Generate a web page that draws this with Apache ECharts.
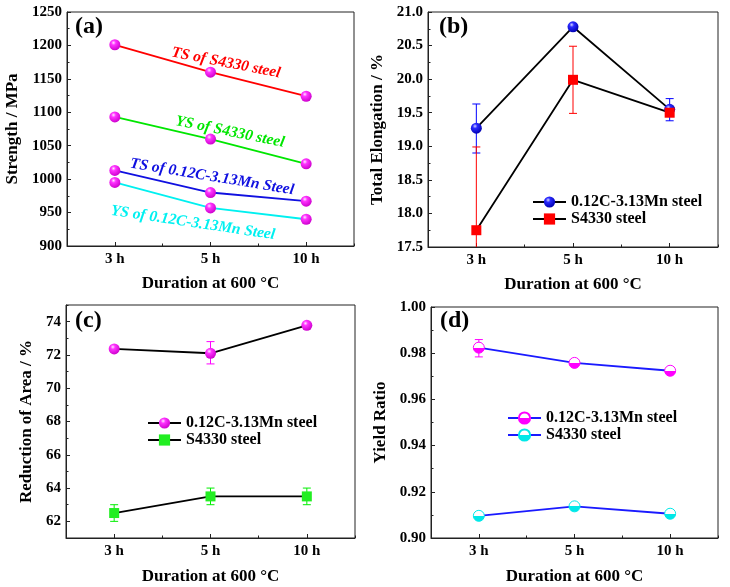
<!DOCTYPE html>
<html>
<head>
<meta charset="utf-8">
<script src="https://cdn.jsdelivr.net/npm/echarts@6/dist/echarts.min.js"></script>
<style>
  html, body { margin: 0; padding: 0; background: #fff; }
  .panel { position: absolute; }
</style>
</head>
<body>
<div id="pa" class="panel" style="left:0;top:0;width:365px;height:290px;"></div>
<div id="pb" class="panel" style="left:365px;top:0;width:365px;height:290px;"></div>
<div id="pc" class="panel" style="left:0;top:290px;width:365px;height:297px;"></div>
<div id="pd" class="panel" style="left:365px;top:290px;width:365px;height:297px;"></div>
<script>
// categories
var durations = ['3 h', '5 h', '10 h'];

// (a) strength, MPa
var tsS4330 = [1201, 1160, 1124];
var ysS4330 = [1093, 1060, 1023];
var tsMn = [1013, 980, 967];
var ysMn = [995, 957, 940];

// (b) total elongation, %
var elongMn = [19.27, 20.78, 19.55];
var elongMnLow = [18.90, 20.76, 19.38];
var elongMnHigh = [19.63, 20.80, 19.71];
var elongS4330 = [17.75, 19.99, 19.50];
var elongS4330Low = [16.51, 19.49, 19.45];
var elongS4330High = [18.99, 20.49, 19.55];

// (c) reduction of area, %
var raMn = [72.36, 72.10, 73.78];
var raMnLow = [72.30, 71.46, 73.72];
var raMnHigh = [72.42, 72.80, 73.84];
var raS4330 = [62.5, 63.5, 63.5];
var raS4330Low = [62.0, 63.0, 63.0];
var raS4330High = [63.0, 64.0, 64.0];
var raTicks = [62, 64, 66, 68, 70, 72, 74];

// (d) yield ratio
var yrMn = [0.9824, 0.9758, 0.9724];
var yrMnLow = [0.9784, 0.9748, 0.9714];
var yrMnHigh = [0.9859, 0.9768, 0.9734];
var yrS4330 = [0.9096, 0.9137, 0.9105];
var yrS4330Low = [0.9088, 0.9129, 0.9093];
var yrS4330High = [0.9104, 0.9145, 0.9117];

var FONT = '"Liberation Serif", "Times New Roman", serif';
var AXIS_COLOR = '#222';

function sphere(light, base, dark){
    return {
        type: 'radial', x: 0.38, y: 0.32, r: 0.7,
        colorStops: [
            {offset: 0, color: light},
            {offset: 0.3, color: base},
            {offset: 1, color: dark}
        ]
    };
}
function halfBall(color){
    return {
        type: 'linear', x: 0, y: 0, x2: 0, y2: 1,
        colorStops: [
            {offset: 0, color: '#ffffff'},
            {offset: 0.5, color: '#ffffff'},
            {offset: 0.5, color: color},
            {offset: 1, color: color}
        ]
    };
}

// error bars as custom series, clipped to the grid
function error_bars(low, high, color){
    var data = [];
    for (var i = 0; i < low.length; i++) {
        data.push([i, low[i], high[i]]);
    }
    return {
        type: 'custom',
        z: 1,
        silent: true,
        encode: {x: 0, y: [1, 2]},
        data: data,
        renderItem: function (params, api) {
            var cs = params.coordSys;
            var pLo = api.coord([api.value(0), api.value(1)]);
            var pHi = api.coord([api.value(0), api.value(2)]);
            var top = cs.y, bot = cs.y + cs.height;
            var x = pLo[0], half = 4;
            var y1 = Math.max(pHi[1], top), y2 = Math.min(pLo[1], bot);
            var style = {stroke: color, lineWidth: 1};
            var children = [{type: 'line', shape: {x1: x, y1: y1, x2: x, y2: y2}, style: style}];
            if (pHi[1] >= top) children.push({type: 'line', shape: {x1: x - half, y1: pHi[1], x2: x + half, y2: pHi[1]}, style: style});
            if (pLo[1] <= bot) children.push({type: 'line', shape: {x1: x - half, y1: pLo[1], x2: x + half, y2: pLo[1]}, style: style});
            return {type: 'group', children: children};
        }
    };
}

function line_series(name, data, lineColor, symbol, size, fill, border){
    return {
        name: name,
        type: 'line',
        data: data,
        symbol: symbol,
        symbolSize: size,
        z: 3,
        lineStyle: {color: lineColor, width: 1.8},
        itemStyle: {color: fill, borderColor: border || fill, borderWidth: border ? 1 : 0},
        emphasis: {disabled: true}
    };
}

function base_option(cfg){
    var yAxes = [{
        type: 'value',
        min: cfg.min, max: cfg.max, interval: cfg.interval,
        name: cfg.yName, nameLocation: 'middle', nameGap: cfg.yNameGap,
        nameTextStyle: {fontFamily: FONT, fontWeight: 'bold', fontSize: 17, color: '#000'},
        axisLine: {show: true, lineStyle: {color: AXIS_COLOR, width: 1}},
        axisTick: {show: true, inside: true, length: 4, lineStyle: {color: AXIS_COLOR}},
        minorTick: {show: cfg.minor !== false, splitNumber: 2, length: 2.5, lineStyle: {color: AXIS_COLOR}},
        splitLine: {show: false},
        axisLabel: {fontFamily: FONT, fontWeight: 'bold', fontSize: 15, color: '#000', margin: 5,
            formatter: cfg.fmt || function (v) { return String(v); }}
    }];
    if (cfg.yAxisExtra) {
        for (var k in cfg.yAxisExtra) yAxes[0][k] = cfg.yAxisExtra[k];
    }
    if (cfg.yMinorAxis) yAxes.push(cfg.yMinorAxis);
    return {
        animation: false,
        title: {text: cfg.tag, left: cfg.tagLeft, top: cfg.tagTop, padding: 0,
            textStyle: {fontFamily: FONT, fontWeight: 'bold', fontSize: 24, color: '#000'}},
        grid: {left: cfg.grid[0], top: cfg.grid[1], right: cfg.grid[2], bottom: cfg.grid[3],
            outerBoundsMode: 'none', containLabel: false,
            show: true, borderColor: AXIS_COLOR, borderWidth: 1, backgroundColor: 'transparent'},
        xAxis: [{
            type: 'category', data: durations, boundaryGap: true,
            name: 'Duration at 600 °C', nameLocation: 'middle', nameGap: cfg.xNameGap,
            nameTextStyle: {fontFamily: FONT, fontWeight: 'bold', fontSize: 17, color: '#000'},
            axisLine: {show: true, lineStyle: {color: AXIS_COLOR, width: 1}},
            axisTick: {show: true, inside: true, alignWithLabel: true, length: 4, lineStyle: {color: AXIS_COLOR}},
            axisLabel: {fontFamily: FONT, fontWeight: 'bold', fontSize: 15, color: '#000', margin: 6}
        }, {
            // minor ticks between categories
            type: 'category', data: durations, boundaryGap: true, position: 'bottom',
            axisLine: {show: false},
            axisTick: {show: true, inside: true, alignWithLabel: false, length: 2.5, lineStyle: {color: AXIS_COLOR}},
            axisLabel: {show: false}
        }],
        yAxis: yAxes,
        legend: cfg.legend,
        graphic: cfg.graphic || [],
        series: cfg.series
    };
}

function legend_at(left, top, names){
    return {
        orient: 'vertical', left: left, top: top, data: names,
        itemWidth: 33, itemHeight: 14, itemGap: 1,
        selectedMode: false,
        textStyle: {fontFamily: FONT, fontWeight: 'bold', fontSize: 16, color: '#000'}
    };
}

function note(text, color, x, y, deg){
    return {
        type: 'text', x: x, y: y, rotation: -deg * Math.PI / 180, silent: true,
        style: {text: text, fill: color, align: 'center', verticalAlign: 'middle',
            font: 'italic bold 15.5px ' + FONT}
    };
}

var magentaBall = sphere('#ffe6ff', '#ff33ff', '#cc00cc');
var blueBall = sphere('#d8d8ff', '#2a2aff', '#0000b0');

// (a)
var chartA = echarts.init(document.getElementById('pa'));
chartA.setOption(base_option({
    tag: '(a)', tagLeft: 75, tagTop: 15,
    grid: [67, 12, 11, 44], xNameGap: 29,
    min: 900, max: 1250, interval: 50,
    yName: 'Strength / MPa', yNameGap: 36,
    series: [
        line_series('TS of S4330 steel', tsS4330, '#ff0000', 'circle', 11, magentaBall),
        line_series('YS of S4330 steel', ysS4330, '#00e600', 'circle', 11, magentaBall),
        line_series('TS of 0.12C-3.13Mn Steel', tsMn, '#1010e0', 'circle', 11, magentaBall),
        line_series('YS of 0.12C-3.13Mn Steel', ysMn, '#00f0f0', 'circle', 11, magentaBall)
    ],
    graphic: [
        note('TS of S4330 steel', '#ff0000', 226, 63, 11),
        note('YS of S4330 steel', '#00e600', 230, 132, 11.5),
        note('TS of 0.12C-3.13Mn Steel', '#1010e0', 212, 177, 9.3),
        note('YS of 0.12C-3.13Mn Steel', '#00f0f0', 193, 223, 8.5)
    ]
}));

// (b)
var chartB = echarts.init(document.getElementById('pb'));
chartB.setOption(base_option({
    tag: '(b)', tagLeft: 74, tagTop: 15,
    grid: [63, 12, 12, 43], xNameGap: 29,
    min: 17.5, max: 21.0, interval: 0.5,
    fmt: function (v) { return v.toFixed(1); },
    yName: 'Total Elongation / %', yNameGap: 29,
    legend: legend_at(162, 189, ['0.12C-3.13Mn steel', 'S4330 steel']),
    series: [
        error_bars(elongMnLow, elongMnHigh, '#0000ff'),
        error_bars(elongS4330Low, elongS4330High, '#ff0000'),
        line_series('0.12C-3.13Mn steel', elongMn, '#000000', 'circle', 11, blueBall),
        line_series('S4330 steel', elongS4330, '#000000', 'rect', 10, '#ff0000')
    ]
}));

// (c)
var chartC = echarts.init(document.getElementById('pc'));
chartC.setOption(base_option({
    tag: '(c)', tagLeft: 75, tagTop: 19,
    grid: [66, 15, 10, 49], xNameGap: 30,
    min: 61, max: 75,
    minor: false,
    yAxisExtra: {
        axisTick: {show: true, inside: true, length: 4, lineStyle: {color: AXIS_COLOR}, customValues: raTicks}
    },
    yMinorAxis: {
        type: 'value', min: 61, max: 75, interval: 1, position: 'left',
        axisLine: {show: false}, axisLabel: {show: false}, splitLine: {show: false},
        axisTick: {show: true, inside: true, length: 2.5, lineStyle: {color: AXIS_COLOR}}
    },
    yName: 'Reduction of Area / %', yNameGap: 23,
    legend: legend_at(142, 120, ['0.12C-3.13Mn steel', 'S4330 steel']),
    series: [
        error_bars(raMnLow, raMnHigh, '#ff00ff'),
        error_bars(raS4330Low, raS4330High, '#00ee00'),
        line_series('0.12C-3.13Mn steel', raMn, '#000000', 'circle', 11, magentaBall),
        line_series('S4330 steel', raS4330, '#000000', 'rect', 10, '#22ee22')
    ]
}));
// labels only on even values
chartC.setOption({yAxis: [{axisLabel: {customValues: raTicks}}]});

// (d)
var chartD = echarts.init(document.getElementById('pd'));
chartD.setOption(base_option({
    tag: '(d)', tagLeft: 75, tagTop: 19,
    grid: [66, 17, 12, 49], xNameGap: 30,
    min: 0.90, max: 1.00, interval: 0.02,
    fmt: function (v) { return v.toFixed(2); },
    yName: 'Yield Ratio', yNameGap: 28,
    legend: legend_at(137, 115, ['0.12C-3.13Mn steel', 'S4330 steel']),
    series: [
        error_bars(yrMnLow, yrMnHigh, '#ff00ff'),
        error_bars(yrS4330Low, yrS4330High, '#00dddd'),
        line_series('0.12C-3.13Mn steel', yrMn, '#1a1aff', 'circle', 11, halfBall('#ff00ff'), '#ff00ff'),
        line_series('S4330 steel', yrS4330, '#1a1aff', 'circle', 11, halfBall('#00e8e8'), '#00e8e8')
    ]
}));
</script>
</body>
</html>
